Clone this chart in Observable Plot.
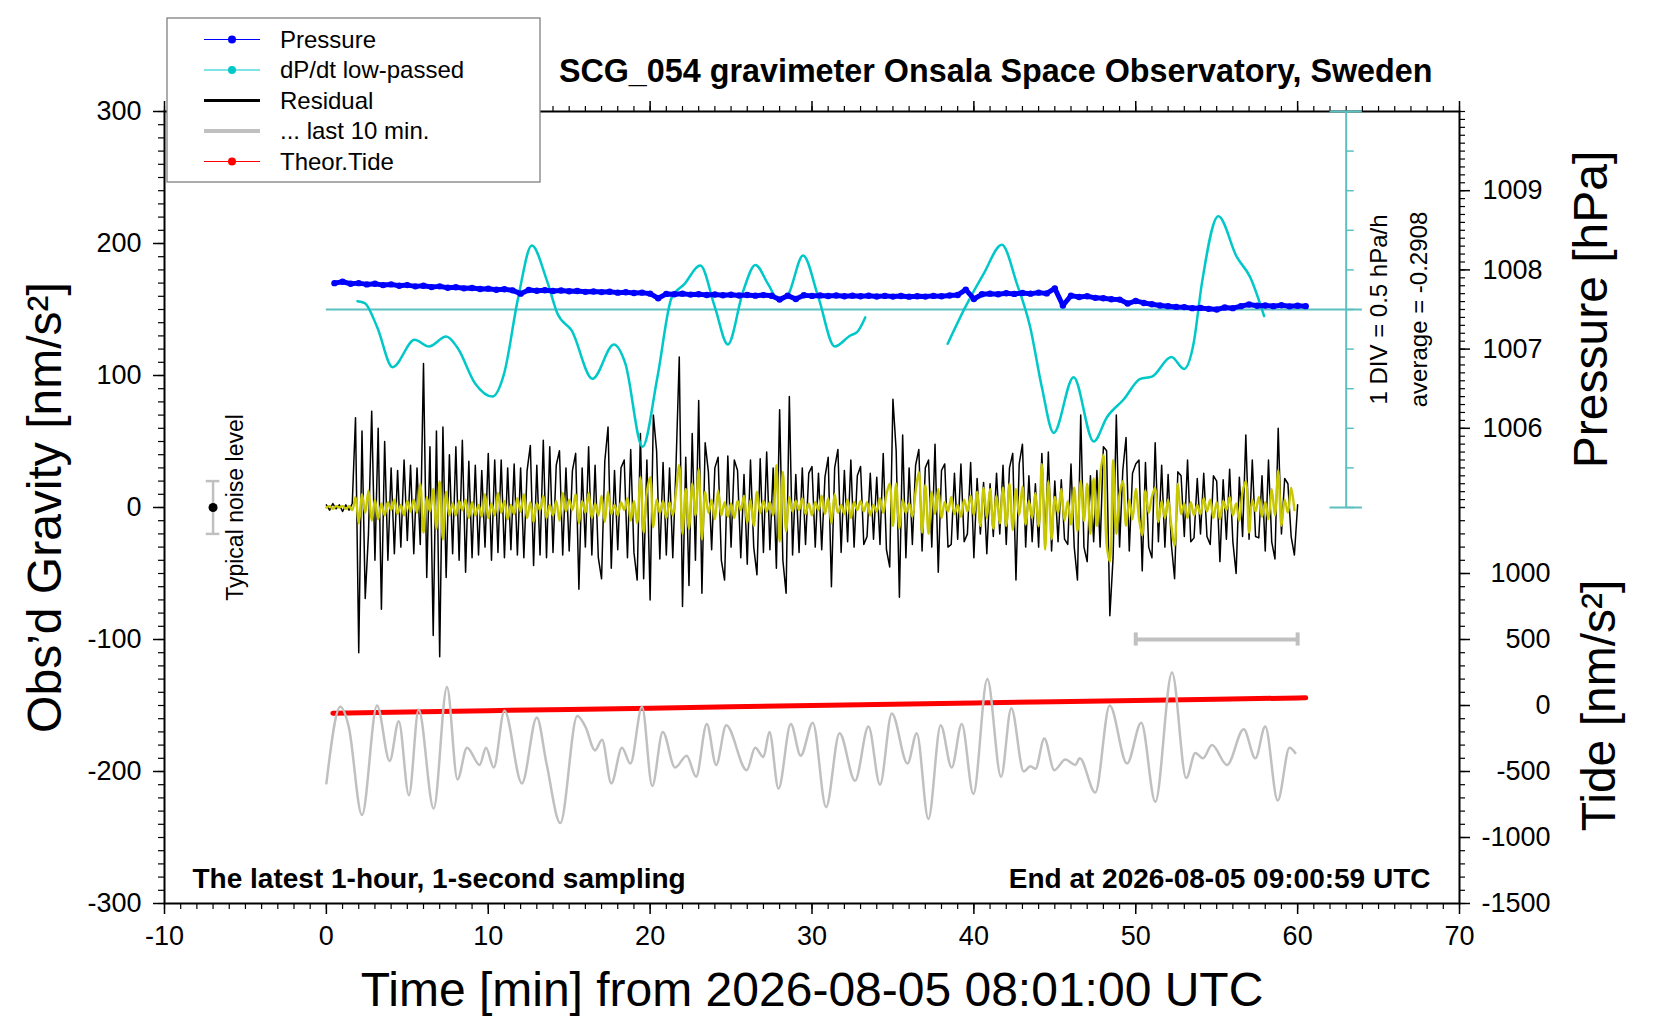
<!DOCTYPE html>
<html lang="en">
<head>
<meta charset="UTF-8">
<title>SCG_054 gravimeter Onsala Space Observatory, Sweden</title>
<script src="https://cdn.jsdelivr.net/npm/d3@7"></script>
<script src="https://cdn.jsdelivr.net/npm/@observablehq/plot@0.6"></script>
<style>
  body { margin: 0; background: white; }
  #chart { width: 1660px; height: 1020px; }
</style>
</head>
<body>
<div id="chart"></div>
<script>
// ---- values ----

// residual gravity [nm/s2], one value every 0.2 min from 0.0
const residualStep = 0.2;
const residual = [
  2,-2,3,-1,2,-3,2,-2,3,68,
  -110,58,-69,-20,73,-40,60,-77,50,-40,
  30,-35,28,-30,36,-25,32,-35,30,-28,
  109,-53,46,-97,58,-113,61,-53,40,-35,
  46,-40,51,-49,35,-38,32,-36,28,-30,
  41,-40,36,-34,36,-38,30,-32,33,-36,
  30,-38,28,47,-44,32,-36,51,-38,46,
  -34,32,43,-36,30,-33,28,41,-62,30,
  -30,46,-36,32,-38,-54,35,61,-46,28,
  -32,30,36,-38,44,-34,-55,56,-54,36,
  -70,70,43,-39,34,-36,30,-38,32,114,
  -75,38,-59,56,-40,81,-65,49,27,-32,
  30,38,-40,-55,39,-30,36,28,-38,25,
  -43,36,-30,-51,37,-34,42,-32,30,-46,
  74,-40,-65,84,-36,25,-34,30,-28,26,
  31,-30,26,-32,23,38,-60,30,44,-34,
  28,-26,36,-30,24,31,-28,-22,26,-24,
  23,-28,41,-32,-45,82,43,-68,55,-38,
  30,-28,32,44,-33,30,36,-30,48,-49,
  28,33,-30,-28,26,-24,33,-26,-20,34,
  -38,22,-20,19,-35,18,-22,26,-20,32,
  -28,30,41,-55,33,48,-30,24,-26,18,
  -30,41,-28,42,-33,20,-26,21,-24,-28,
  33,-30,-55,70,-30,-41,24,-26,28,-30,
  46,43,-82,-38,70,-30,28,53,-33,26,
  33,36,-48,34,-30,-38,49,-26,32,-30,
  25,-28,-54,27,24,-22,36,-26,-23,22,
  -20,26,-22,-28,24,20,-41,21,-24,29,
  -26,-50,23,-22,55,-24,36,-22,-23,24,
  -33,36,-26,-39,60,-20,22,18,-22,-36,
  2
];

// low-passed residual (yellow), one value every 0.2 min from 0.0
const filteredStep = 0.2;
const filtered = [
  0,1,-1,1,0,1,-1,1,-2,8,
  -12,10,-4,13,-10,6,-9,3,-6,4,
  -2,6,-5,2,-6,5,-3,6,-4,18,
  -19,8,-3,14,-16,20,-24,12,-6,3,
  -6,5,-2,6,-8,4,-6,2,-7,10,
  -8,3,-6,11,-4,5,-9,2,-5,7,
  -3,10,-8,4,-11,3,-2,9,-8,2,
  -6,5,-10,11,-3,6,-2,10,-12,5,
  -4,11,-8,3,-6,9,-11,12,-5,2,
  -6,4,-2,7,-10,5,-12,23,-19,12,
  23,-15,6,-4,5,-8,4,-6,12,32,
  -20,14,-16,18,-6,29,-24,12,-4,6,
  -9,13,-6,4,-7,3,-8,5,-2,9,
  -12,6,-14,12,-4,5,-3,4,-6,32,
  -26,27,-18,8,-3,5,-2,7,-5,3,
  -6,4,-2,9,-5,7,-12,10,-4,2,
  -5,6,-8,4,-2,5,-3,4,-6,2,
  -3,7,-4,10,18,-14,18,-16,6,-4,
  3,-7,12,27,-19,17,-20,12,-5,14,
  -8,4,-3,8,-5,2,-7,6,-3,9,
  -6,12,-14,15,-8,14,-16,9,-12,15,
  -14,18,-17,14,-6,16,-13,5,-8,11,
  -14,33,-32,20,-24,8,-4,14,-10,5,
  -13,15,-18,20,-10,18,-20,22,-14,24,
  40,-28,-41,36,-20,10,20,-14,6,-9,
  14,-8,-21,13,-4,8,15,-11,5,-8,
  6,-14,-29,18,-5,3,-8,4,-6,2,
  -5,7,-3,6,-8,4,-9,5,-2,8,
  -6,3,-10,12,20,-19,6,-3,8,-7,
  4,-9,14,-6,28,-14,6,-4,15,-2
];

// air pressure [hPa], one value every 0.5 min from 0.5
const pressureStart = 0.5;
const pressureStep = 0.5;
const pressure = [
  1007.833,1007.850,1007.825,1007.833,1007.817,1007.825,1007.808,1007.817,1007.800,1007.808,
  1007.792,1007.800,1007.783,1007.792,1007.775,1007.780,1007.767,1007.772,1007.758,1007.763,
  1007.750,1007.755,1007.742,1007.700,1007.747,1007.737,1007.743,1007.733,1007.740,1007.730,
  1007.733,1007.723,1007.728,1007.720,1007.725,1007.713,1007.717,1007.708,1007.713,1007.700,
  1007.642,1007.697,1007.692,1007.700,1007.688,1007.693,1007.683,1007.690,1007.680,1007.687,
  1007.677,1007.683,1007.675,1007.682,1007.673,1007.625,1007.675,1007.633,1007.680,1007.672,
  1007.678,1007.670,1007.677,1007.668,1007.675,1007.667,1007.673,1007.665,1007.672,1007.663,
  1007.670,1007.662,1007.668,1007.663,1007.672,1007.667,1007.677,1007.683,1007.750,1007.633,
  1007.692,1007.700,1007.693,1007.705,1007.697,1007.708,1007.700,1007.713,1007.703,1007.767,
  1007.550,1007.675,1007.658,1007.667,1007.647,1007.642,1007.630,1007.625,1007.575,1007.608,
  1007.583,1007.567,1007.550,1007.542,1007.533,1007.530,1007.517,1007.520,1007.508,1007.500,
  1007.525,1007.517,1007.542,1007.563,1007.547,1007.550,1007.542,1007.553,1007.540,1007.547,
  1007.542
];

// dP/dt low-passed, deviation from the average [hPa/h]; NaN marks the gap
const dpdtAverage = -0.2908;
const dpdtTime = [
  1.92,2.37,3.14,4.09,5.45,6.34,7.4,8.1,9.2,10.26,10.97,11.85,12.69,13.62,14.28,15.16,
  16.44,17.76,18.47,19.53,20.45,21.33,22.1,23.1,24.0,24.8,25.75,26.5,27.3,27.96,28.5,
  29.45,30.4,31.4,32.37,32.78,33.29,35.0,
  38.38,39.47,40.6,41.73,42.66,43.48,44.2,44.93,46.16,47.4,48.22,49.25,50.28,51.0,
  52.2,52.99,53.57,54.08,55.1,56.25,57.07,57.93
];
const dpdtDev = [
  0.105,0.08,-0.223,-0.728,-0.383,-0.467,-0.342,-0.483,-0.938,-1.1,-0.817,0.15,0.808,0.367,-0.055,-0.267,
  -0.875,-0.442,-0.683,-1.733,-0.855,0.15,0.317,0.555,0.03,-0.442,0.233,0.563,0.317,0.113,0.177,
  0.683,0.15,-0.467,-0.328,-0.287,-0.1,NaN,
  -0.433,0.03,0.45,0.817,0.323,-0.223,-0.983,-1.558,-0.855,-1.667,-1.36,-1.137,-0.875,-0.847,
  -0.6,-0.75,-0.433,0.323,1.178,0.66,0.408,-0.083
];

// last 10 minutes, stretched over the hour and shifted down (grey)
const lastTime = [
  0,0.86,1.38,2.2,3.13,3.91,4.47,5.1,5.7,6.63,7.45,8.1,8.69,9.47,9.86,10.34,11.0,12.08,13.0,13.6,
  14.45,15.5,16.0,16.6,17.03,17.6,18.26,18.78,19.5,20.13,20.78,21.54,22.26,22.84,23.5,24.08,24.7,
  25.97,26.49,27.0,27.37,27.93,28.69,29.3,30.05,30.87,31.7,32.66,33.49,34.2,34.93,35.9,36.47,37.19,
  37.95,38.63,39.25,39.97,40.83,41.68,42.31,43.08,43.49,43.8,44.35,44.97,45.65,46.27,46.54,47.5,
  48.39,49.46,50.34,51.21,52.24,53.12,53.68,54.15,54.71,55.64,56.67,57.39,58.0,58.77,59.5,59.86
];
const lastVal = [
  -209,-151,-166,-233,-150,-192,-162,-218,-153,-228,-136,-206,-182,-195,-182,-197,-154,-209,-159,-194,
  -239,-158,-166,-184,-176,-209,-182,-194,-151,-211,-170,-197,-188,-204,-164,-195,-165,
  -199,-182,-189,-170,-213,-164,-188,-163,-227,-171,-207,-166,-210,-156,-194,-171,-236,
  -165,-197,-164,-217,-130,-204,-152,-200,-196,-198,-175,-199,-191,-195,-190,-216,
  -150,-194,-163,-223,-125,-205,-186,-190,-180,-195,-168,-190,-166,-222,-182,-186
];

// theoretical tide [nm/s2]
const tideTime = [0.4,5,10,15,20,25,30,35,40,45,50,55,60,60.5];
const tideVal = [-58,-49,-39,-30,-20,-10,0,10,19,29,38,48,57,58];

// annotations
const noiseX = -7, noiseLevel = 20;
const lastBar = [50, 60], lastBarLevel = -100;
const dpdtAxisX = 63;
const dpdtDivs = [-5,-4,-3,-2,-1,0,1,2,3,4,5];

// ticks
const xMajor = [-10,0,10,20,30,40,50,60,70];
const gravMajor = [-300,-200,-100,0,100,200,300];
const pressureMajor = [1006,1007,1008,1009];
const tideMajor = [-1500,-1000,-500,0,500,1000];

const legendLabels = ["Pressure", "dP/dt low-passed", "Residual", "... last 10 min.", "Theor.Tide"];
const legendColors = ["#0000ff", "#00c8c8", "#000000", "#c0c0c0", "#ff0000"];

// ---- mapping of the secondary axes onto the gravity axis ----
const gP = p => 240 + (p - 1009) * 60;   // hPa -> plot units
const gT = t => (t - 1500) / 10;         // tide nm/s2 -> plot units
const gD = d => 150 + d * 60;            // dP/dt deviation (0.5 hPa/h per DIV = 30)

const resData = residual.map((v, i) => ({t: i * residualStep, v}));
const filtData = filtered.map((v, i) => ({t: i * filteredStep, v}));
const presData = pressure.map((p, i) => ({t: pressureStart + i * pressureStep, v: gP(p)}));
const dpdtData = dpdtTime.map((t, i) => ({t, v: gD(dpdtDev[i])}));
const lastData = lastTime.map((t, i) => ({t, v: lastVal[i]}));
const tideData = tideTime.map((t, i) => ({t, v: gT(tideVal[i])}));

const font = "'Liberation Sans', Arial, Helvetica, sans-serif";
const cyanAxis = "#5cc0c0";
const none = () => "";

const chart = Plot.plot({
  width: 1660,
  height: 1020,
  marginLeft: 164,
  marginRight: 201,
  marginTop: 111,
  marginBottom: 117,
  style: {fontFamily: font, background: "white", color: "black"},
  x: {domain: [-10, 70], axis: null},
  y: {domain: [-300, 300], axis: null},
  marks: [
    // axes
    Plot.axisX(xMajor, {anchor: "bottom", tickSize: 11, tickPadding: 11, fontSize: 27, strokeWidth: 1.5, tickFormat: d => String(d), label: null}),
    Plot.axisX(d3.range(-10, 71, 1), {anchor: "bottom", tickSize: 6, strokeWidth: 1.2, tickFormat: none, label: null}),
    Plot.axisX(xMajor, {anchor: "top", tickSize: 11, strokeWidth: 1.5, tickFormat: none, label: null}),
    Plot.axisX(d3.range(-10, 71, 1), {anchor: "top", tickSize: 6, strokeWidth: 1.2, tickFormat: none, label: null}),
    Plot.axisY(gravMajor, {anchor: "left", tickSize: 11, tickPadding: 12, fontSize: 27, strokeWidth: 1.5, tickFormat: d => String(d), label: null}),
    Plot.axisY(d3.range(-300, 301, 10), {anchor: "left", tickSize: 6, strokeWidth: 1.2, tickFormat: none, label: null}),
    Plot.axisY(pressureMajor.map(gP), {anchor: "right", tickSize: 10, tickPadding: 13, fontSize: 27, strokeWidth: 1.5,
      tickFormat: g => String(Math.round(1009 + (g - 240) / 60)), label: null}),
    Plot.axisY(d3.range(1005, 1010.01, 0.1).map(gP), {anchor: "right", tickSize: 5, strokeWidth: 1.2, tickFormat: none, label: null}),
    Plot.axisY(tideMajor.map(gT), {anchor: "right", tickSize: 10, strokeWidth: 1.5, tickFormat: none, label: null}),
    Plot.axisY(tideMajor.map(gT), {anchor: "right", tickSize: 0, tickPadding: 91, textAnchor: "end", fontSize: 27,
      tickFormat: g => String(Math.round(g * 10 + 1500)), label: null}),
    Plot.axisY(d3.range(-1500, 1501, 100).map(gT), {anchor: "right", tickSize: 5, strokeWidth: 1.2, tickFormat: none, label: null}),
    Plot.frame({stroke: "black", strokeWidth: 2}),

    // dP/dt scale
    Plot.ruleY([0], {y: gD, x1: 0, x2: dpdtAxisX + 1, stroke: cyanAxis, strokeWidth: 2}),
    Plot.ruleX([dpdtAxisX], {y1: gD(-2.5), y2: gD(2.5), stroke: cyanAxis, strokeWidth: 2}),
    Plot.ruleY(dpdtDivs, {y: d => gD(d * 0.5), x1: dpdtAxisX, x2: dpdtAxisX + 0.5, stroke: cyanAxis, strokeWidth: 1.5}),
    Plot.ruleY([-5, 5], {y: d => gD(d * 0.5), x1: dpdtAxisX - 1, x2: dpdtAxisX + 1, stroke: cyanAxis, strokeWidth: 2}),

    // noise level
    Plot.ruleX([noiseX], {y1: -noiseLevel, y2: noiseLevel, stroke: "#c0c0c0", strokeWidth: 2.5}),
    Plot.ruleY([-noiseLevel, noiseLevel], {x1: noiseX - 0.42, x2: noiseX + 0.42, stroke: "#c0c0c0", strokeWidth: 2.5}),
    Plot.dot([noiseX], {x: d => d, y: 0, r: 4.5, fill: "black"}),

    // last 10 min bar
    Plot.ruleY([lastBarLevel], {x1: lastBar[0], x2: lastBar[1], stroke: "#c0c0c0", strokeWidth: 4}),
    Plot.ruleX(lastBar, {y1: lastBarLevel - 5, y2: lastBarLevel + 5, stroke: "#c0c0c0", strokeWidth: 4}),

    // series
    Plot.line(tideData, {x: "t", y: "v", stroke: "#ff0000", strokeWidth: 5}),
    Plot.line(lastData, {x: "t", y: "v", stroke: "#c0c0c0", strokeWidth: 2.5, curve: "monotone-x"}),
    Plot.line(resData, {x: "t", y: "v", stroke: "black", strokeWidth: 1.5}),
    Plot.line(filtData, {x: "t", y: "v", stroke: "#c8c800", strokeWidth: 2.4, curve: "catmull-rom"}),
    Plot.line(dpdtData, {x: "t", y: "v", stroke: "#00c8c8", strokeWidth: 2.5, curve: "monotone-x"}),
    Plot.line(presData, {x: "t", y: "v", stroke: "#0000ff", strokeWidth: 5}),
    Plot.dot(presData, {x: "t", y: "v", r: 3.2, fill: "#0000ff"}),

    // texts
    Plot.text(["SCG_054 gravimeter Onsala Space Observatory, Sweden"], {frameAnchor: "top-right", dx: -27, dy: -40,
      textAnchor: "end", lineAnchor: "middle", fontSize: 32.3, fontWeight: "bold"}),
    Plot.text(["Time [min] from 2026-08-05 08:01:00 UTC"], {frameAnchor: "bottom", dy: 87, lineAnchor: "middle", fontSize: 48}),
    Plot.text(["Obs’d Gravity [nm/s²]"], {frameAnchor: "left", dx: -119, rotate: -90, textAnchor: "middle", lineAnchor: "middle", fontSize: 48}),
    Plot.text(["Pressure [hPa]"], {frameAnchor: "top-right", dx: 132, dy: 198, rotate: -90, textAnchor: "middle", lineAnchor: "middle", fontSize: 48}),
    Plot.text(["Tide [nm/s²]"], {frameAnchor: "bottom-right", dx: 140, dy: -198, rotate: -90, textAnchor: "middle", lineAnchor: "middle", fontSize: 48}),
    Plot.text(["The latest 1-hour, 1-second sampling"], {frameAnchor: "bottom-left", dx: 28, dy: -24,
      textAnchor: "start", lineAnchor: "middle", fontSize: 28, fontWeight: "bold"}),
    Plot.text(["End at 2026-08-05 09:00:59 UTC"], {frameAnchor: "bottom-right", dx: -29, dy: -24,
      textAnchor: "end", lineAnchor: "middle", fontSize: 28, fontWeight: "bold"}),
    Plot.text(["Typical noise level"], {frameAnchor: "left", dx: 71, rotate: -90, textAnchor: "middle", lineAnchor: "middle", fontSize: 23}),
    Plot.text(["1 DIV = 0.5 hPa/h"], {frameAnchor: "top-right", dx: -80, dy: 198, rotate: -90, textAnchor: "middle", lineAnchor: "middle", fontSize: 24}),
    Plot.text([`average = ${dpdtAverage}`], {frameAnchor: "top-right", dx: -40, dy: 198, rotate: -90, textAnchor: "middle", lineAnchor: "middle", fontSize: 24})
  ]
});

// legend box, drawn over the top of the frame
const svg = d3.select(chart);
const lg = svg.append("g").attr("font-family", font).attr("text-anchor", "start");
lg.append("rect")
  .attr("x", 167).attr("y", 18).attr("width", 373).attr("height", 164)
  .attr("fill", "white").attr("stroke", "#808080").attr("stroke-width", 1.3);
legendLabels.forEach((label, i) => {
  const y = 39.5 + i * 30.5;
  const thick = i === 2 ? 3 : i === 3 ? 4 : 1;
  lg.append("line")
    .attr("x1", 204).attr("x2", 260).attr("y1", y).attr("y2", y)
    .attr("stroke", legendColors[i]).attr("stroke-width", thick);
  if (thick === 1) {
    lg.append("circle").attr("cx", 232).attr("cy", y).attr("r", 4).attr("fill", legendColors[i]);
  }
  lg.append("text")
    .attr("x", 280).attr("y", y).attr("dy", "0.35em")
    .attr("font-size", 24).attr("fill", "black")
    .text(label);
});

document.querySelector("#chart").append(chart);
</script>
</body>
</html>
